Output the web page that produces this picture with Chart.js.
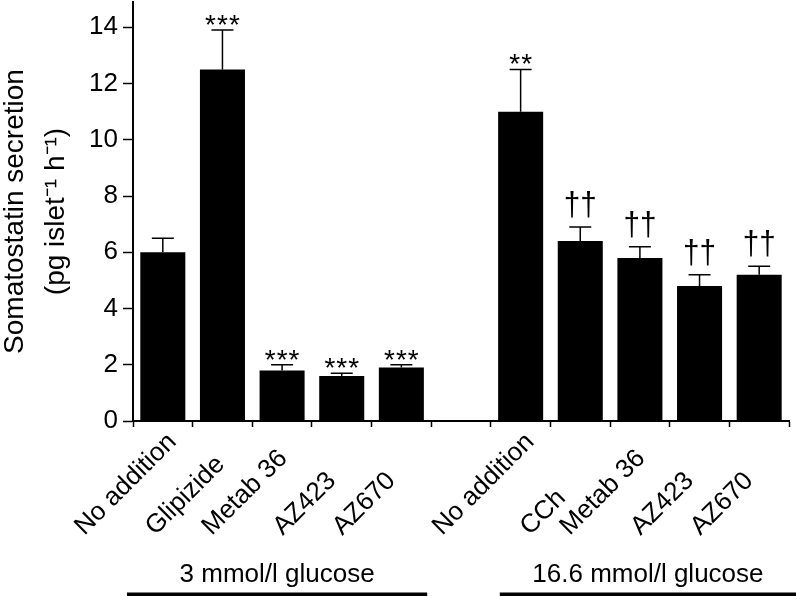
<!DOCTYPE html>
<html>
<head>
<meta charset="utf-8">
<script src="https://cdn.jsdelivr.net/npm/chart.js@4.4.1/dist/chart.umd.min.js"></script>
<style>
  html, body { margin: 0; padding: 0; background: #fff; }
  canvas { display: block; }
</style>
</head>
<body>
<canvas id="chart" width="796" height="596"></canvas>
<script>
// ── data ─────────────────────────────────────────────────────
const categories = ['No addition', 'Glipizide', 'Metab 36', 'AZ423', 'AZ670', '',
                    'No addition', 'CCh', 'Metab 36', 'AZ423', 'AZ670'];
const means      = [6.0, 12.5, 1.8, 1.6, 1.9, null, 11.0, 6.4, 5.8, 4.8, 5.2];
const errTops    = [6.5, 13.9, 2.0, 1.7, 2.0, null, 12.5, 6.9, 6.2, 5.2, 5.5];
const marks      = ['', '***', '***', '***', '***', '', '**', '††', '††', '††', '††'];
const groupNames = ['3 mmol/l glucose', '16.6 mmol/l glucose'];
const groupFirst = [0, 6];
const groupLast  = [4, 10];

const FONT = "'Liberation Sans', Arial, Helvetica, sans-serif";

// ── extras: minor ticks, error bars, significance marks, labels ──
const extras = {
  id: 'extras',
  afterDatasetsDraw(chart) {
    const ctx = chart.ctx;
    const y = chart.scales.y;
    const meta = chart.getDatasetMeta(0);
    ctx.save();
    ctx.strokeStyle = '#000';
    ctx.fillStyle = '#000';

    // minor ticks (odd values)
    ctx.lineWidth = 1.5;
    y.ticks.filter(t => t.value % 2 !== 0).forEach(t => {
      const py = Math.round(y.getPixelForValue(t.value)) + 0.5;
      ctx.beginPath();
      ctx.moveTo(y.right - 5, py);
      ctx.lineTo(y.right, py);
      ctx.stroke();
    });

    meta.data.forEach((bar, i) => {
      if (errTops[i] == null) return;
      const top = y.getPixelForValue(errTops[i]);
      ctx.lineWidth = 1.5;
      ctx.beginPath();
      ctx.moveTo(bar.x, bar.y);
      ctx.lineTo(bar.x, top);
      ctx.moveTo(bar.x - 11, top);
      ctx.lineTo(bar.x + 11, top);
      ctx.stroke();

      const m = marks[i];
      if (!m) return;
      ctx.textAlign = 'center';
      ctx.textBaseline = 'alphabetic';
      if (m.includes('*')) {
        ctx.font = '28px ' + FONT;
        ctx.letterSpacing = '1px';
        ctx.fillText(m, bar.x + 0.5, top + 4);
      } else {
        // daggers: a bit narrower than the font draws them
        ctx.font = '33px ' + FONT;
        ctx.letterSpacing = '0px';
        ctx.save();
        ctx.translate(bar.x, top - 12);
        ctx.scale(0.9, 1);
        ctx.fillText(m, 0, 0);
        ctx.restore();
      }
    });
    ctx.restore();
  },
  afterDraw(chart) {
    const ctx = chart.ctx;
    const x = chart.scales.x;
    ctx.save();
    ctx.fillStyle = '#000';
    ctx.strokeStyle = '#000';

    // category labels at 45°, starts lined up on one level under the axis
    ctx.font = '26px ' + FONT;
    ctx.textAlign = 'center';
    ctx.textBaseline = 'middle';
    chart.data.labels.forEach((lab, i) => {
      if (!lab) return;
      const half = ctx.measureText(lab).width / 2 * Math.SQRT1_2;
      ctx.save();
      ctx.translate(x.getPixelForValue(i) - 37, x.top + 110 - half);
      ctx.rotate(-Math.PI / 4);
      ctx.fillText(lab, 0, 0);
      ctx.restore();
    });

    // group captions with underline
    const half = (x.getPixelForValue(1) - x.getPixelForValue(0)) / 2;
    const spans = [
      [x.getPixelForValue(groupFirst[0]) - half - 6, x.getPixelForValue(groupLast[0]) + half - 4],
      [x.getPixelForValue(groupFirst[1]) - half + 9, chart.width],
    ];
    ctx.textBaseline = 'alphabetic';
    groupNames.forEach((name, g) => {
      const [a, b] = spans[g];
      ctx.fillText(name, (a + b) / 2, 582);
      ctx.lineWidth = 4;
      ctx.beginPath();
      ctx.moveTo(a, 594.5);
      ctx.lineTo(b, 594.5);
      ctx.stroke();
    });
    ctx.restore();
  }
};

new Chart(document.getElementById('chart'), {
  type: 'bar',
  data: {
    labels: categories,
    datasets: [{
      data: means,
      backgroundColor: '#000',
      borderWidth: 0,
      barPercentage: 0.755,
      categoryPercentage: 1.0,
    }],
  },
  options: {
    responsive: false,
    animation: false,
    events: [],
    layout: { padding: { top: 2, right: 7, bottom: 0, left: 0 } },
    plugins: { legend: { display: false }, tooltip: { enabled: false } },
    scales: {
      x: {
        type: 'category',
        offset: true,
        border: { color: '#000', width: 2 },
        grid: { offset: true, drawOnChartArea: false, tickLength: 6, tickColor: '#000', tickWidth: 1.5 },
        ticks: { display: false, autoSkip: false },
        afterFit(scale) { scale.height = 175; },
      },
      y: {
        min: 0,
        max: 14.9,
        border: { color: '#000', width: 2 },
        grid: {
          drawOnChartArea: false,
          tickLength: 10,
          tickWidth: 1.5,
          tickColor: c => (c.tick && c.tick.value % 2 !== 0) ? 'rgba(0,0,0,0)' : '#000',
        },
        ticks: {
          stepSize: 1,
          includeBounds: false,
          color: '#000',
          padding: 5,
          font: { family: FONT, size: 26 },
          callback: v => (v % 2 === 0 ? String(v) : ''),
        },
        title: {
          display: true,
          text: ['Somatostatin secretion', '(pg islet\u207B\u00B9 h\u207B\u00B9)'],
          color: '#000',
          font: { family: FONT, size: 28, lineHeight: 1.45 },
          padding: { top: -5, bottom: 0 },
        },
        afterFit(scale) {
          scale.width = 133;
          // the top label sits well inside the area, no extra room needed
          scale.paddingTop = 0;
          scale.paddingBottom = 0;
        },
      },
    },
  },
  plugins: [extras],
});
</script>
</body>
</html>
